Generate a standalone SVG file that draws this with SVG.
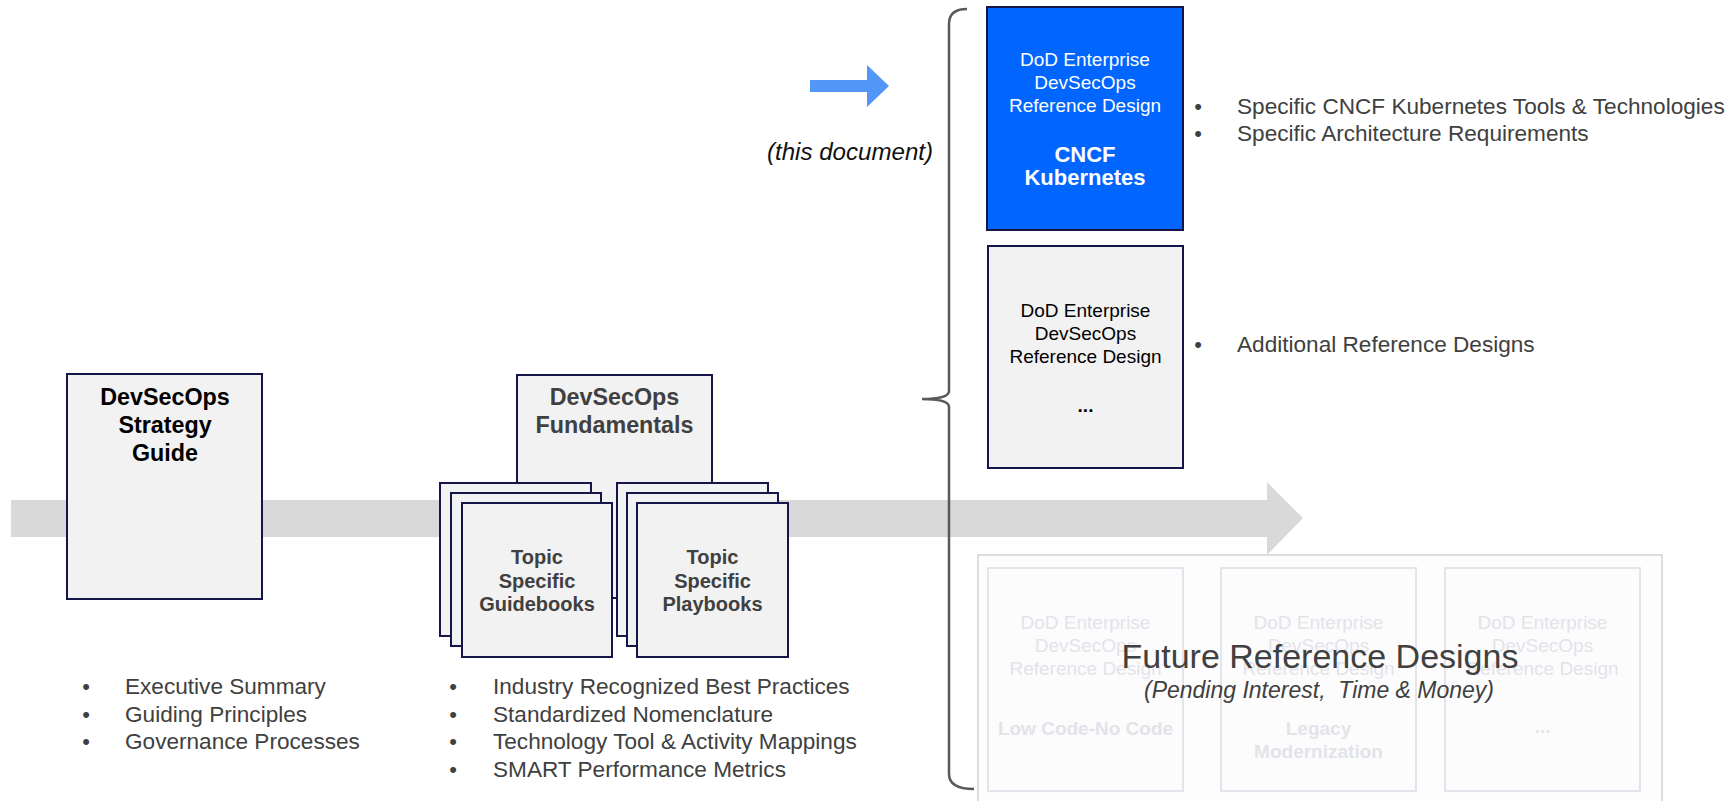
<svg xmlns="http://www.w3.org/2000/svg" width="1736" height="801" viewBox="0 0 1736 801">
<style>
  .box { fill: #F2F2F2; stroke: #15154A; stroke-width: 2; }
  .blue { fill: #0066FF; stroke: #15154A; stroke-width: 2; }
  .fbox { fill: #FCFCFD; stroke: #E4E4EC; stroke-width: 2; }
  .outer { fill: #FDFDFD; stroke: #D2D2D2; stroke-width: 1.5; }
  text { font-family: "Liberation Sans", Arial, sans-serif; }
  .h { font-size: 23.3px; font-weight: bold; text-anchor: middle; }
  .t { font-size: 20px; font-weight: bold; text-anchor: middle; fill: #404040; }
  .rd { font-size: 19px; text-anchor: middle; }
  .rdb { font-size: 22px; font-weight: bold; text-anchor: middle; }
  .bl { font-size: 22.6px; fill: #404040; }
  .dot { font-size: 22px; fill: #404040; text-anchor: middle; }
  .ft { font-size: 19px; text-anchor: middle; fill: #E3E3EA; }
  .ftb { font-size: 19px; font-weight: bold; text-anchor: middle; fill: #E3E3EA; }
</style>

<g id="connectors">
  <polygon id="timeline" points="11,500 1267,500 1267,482 1303,518 1267,555 1267,537 11,537" fill="#D9D9D9"/>
  <polygon id="this-arrow" points="810,80 867,80 867,65 889,86 867,107 867,92 810,92" fill="#5296F7"/>
  <path id="brace" d="M 967 9 Q 949 9 949 24 L 949 391 Q 949 399 922 399 Q 949 399 949 407 L 949 774 Q 949 789 974 789" fill="none" stroke="#595959" stroke-width="2.5"/>
</g>

<g id="strategy-guide">
  <rect class="box" x="67" y="374" width="195" height="225"/>
  <text class="h" x="165" y="405" fill="#000">DevSecOps</text>
  <text class="h" x="165" y="433" fill="#000">Strategy</text>
  <text class="h" x="165" y="461" fill="#000">Guide</text>
</g>
<g id="strategy-bullets">
  <text class="dot" x="86" y="694">•</text>
  <text class="dot" x="86" y="721.5">•</text>
  <text class="dot" x="86" y="749">•</text>
  <text class="bl" x="125" y="694">Executive Summary</text>
  <text class="bl" x="125" y="721.5">Guiding Principles</text>
  <text class="bl" x="125" y="749">Governance Processes</text>
</g>

<g id="fundamentals">
  <rect class="box" x="517" y="375" width="195" height="223"/>
  <text class="h" x="614.5" y="405" fill="#404040">DevSecOps</text>
  <text class="h" x="614.5" y="433" fill="#404040" font-size="23.8">Fundamentals</text>
</g>

<g id="guidebooks">
  <rect class="box" x="440" y="483" width="151" height="153"/>
  <rect class="box" x="451" y="493" width="150" height="153"/>
  <rect class="box" x="462" y="503" width="150" height="154"/>
  <text class="t" x="537" y="564">Topic</text>
  <text class="t" x="537" y="588">Specific</text>
  <text class="t" x="537" y="611">Guidebooks</text>
</g>

<g id="playbooks">
  <rect class="box" x="617" y="483" width="151" height="153"/>
  <rect class="box" x="627" y="493" width="151" height="153"/>
  <rect class="box" x="637" y="503" width="151" height="154"/>
  <text class="t" x="712.5" y="564">Topic</text>
  <text class="t" x="712.5" y="588">Specific</text>
  <text class="t" x="712.5" y="611">Playbooks</text>
</g>

<g id="fundamentals-bullets">
  <text class="dot" x="453" y="694">•</text>
  <text class="dot" x="453" y="721.5">•</text>
  <text class="dot" x="453" y="749">•</text>
  <text class="dot" x="453" y="776.5">•</text>
  <text class="bl" x="493" y="694">Industry Recognized Best Practices</text>
  <text class="bl" x="493" y="721.5">Standardized Nomenclature</text>
  <text class="bl" x="493" y="749">Technology Tool &amp; Activity Mappings</text>
  <text class="bl" x="493" y="776.5">SMART Performance Metrics</text>
</g>

<g id="this-document">
  <text x="933" y="160" font-size="23.5" font-style="italic" text-anchor="end" fill="#111" textLength="166" lengthAdjust="spacingAndGlyphs">(this document)</text>
</g>

<g id="cncf-kubernetes">
  <rect class="blue" x="987" y="7" width="196" height="223"/>
  <text class="rd" x="1085" y="66" fill="#FFFFFF">DoD Enterprise</text>
  <text class="rd" x="1085" y="89" fill="#FFFFFF">DevSecOps</text>
  <text class="rd" x="1085" y="112" fill="#FFFFFF">Reference Design</text>
  <text class="rdb" x="1085" y="162" fill="#FFFFFF">CNCF</text>
  <text class="rdb" x="1085" y="185" fill="#FFFFFF">Kubernetes</text>
</g>
<g id="cncf-bullets">
  <text class="dot" x="1198" y="114">•</text>
  <text class="dot" x="1198" y="141">•</text>
  <text class="bl" x="1237" y="114">Specific CNCF Kubernetes Tools &amp; Technologies</text>
  <text class="bl" x="1237" y="141">Specific Architecture Requirements</text>
</g>

<g id="additional-design">
  <rect class="box" x="988" y="246" width="195" height="222"/>
  <text class="rd" x="1085.5" y="317" fill="#000">DoD Enterprise</text>
  <text class="rd" x="1085.5" y="340" fill="#000">DevSecOps</text>
  <text class="rd" x="1085.5" y="363" fill="#000">Reference Design</text>
  <text class="rd" x="1085.5" y="412" fill="#000" font-weight="bold">...</text>
</g>
<g id="additional-bullets">
  <text class="dot" x="1198" y="352">•</text>
  <text class="bl" x="1237" y="352">Additional Reference Designs</text>
</g>

<g id="future-designs">
  <rect class="outer" x="978" y="555" width="684" height="260"/>
  <g id="future-low-code">
    <rect class="fbox" x="988" y="568" width="195" height="223"/>
    <text class="ft" x="1085.5" y="629">DoD Enterprise</text>
    <text class="ft" x="1085.5" y="652">DevSecOps</text>
    <text class="ft" x="1085.5" y="675">Reference Design</text>
    <text class="ftb" x="1085.5" y="735">Low Code-No Code</text>
  </g>
  <g id="future-legacy">
    <rect class="fbox" x="1221" y="568" width="195" height="223"/>
    <text class="ft" x="1318.5" y="629">DoD Enterprise</text>
    <text class="ft" x="1318.5" y="652">DevSecOps</text>
    <text class="ft" x="1318.5" y="675">Reference Design</text>
    <text class="ftb" x="1318.5" y="735">Legacy</text>
    <text class="ftb" x="1318.5" y="758">Modernization</text>
  </g>
  <g id="future-more">
    <rect class="fbox" x="1445" y="568" width="195" height="223"/>
    <text class="ft" x="1542.5" y="629">DoD Enterprise</text>
    <text class="ft" x="1542.5" y="652">DevSecOps</text>
    <text class="ft" x="1542.5" y="675">Reference Design</text>
    <text class="ftb" x="1542.5" y="733">...</text>
  </g>
  <text x="1320" y="668" font-size="34" text-anchor="middle" fill="#404040">Future Reference Designs</text>
  <text x="1319" y="698" font-size="23" font-style="italic" text-anchor="middle" fill="#404040">(Pending Interest,&#160; Time &amp; Money)</text>
</g>
</svg>
